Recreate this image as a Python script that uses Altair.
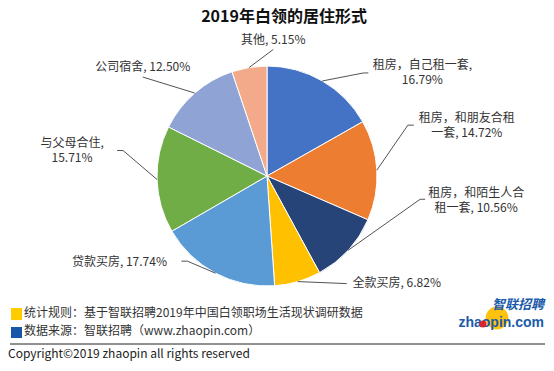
import altair as alt
import pandas as pd
import numpy as np

# ---------------- data ----------------
categories = ["租房，自己租一套", "租房，和朋友合租一套", "租房，和陌生人合租一套", "全款买房",
              "贷款买房", "与父母合住", "公司宿舍", "其他"]
values = [16.79, 14.72, 10.56, 6.82, 17.74, 15.71, 12.50, 5.15]
title_text = "2019年白领的居住形式"
footnotes = ["统计规则：基于智联招聘2019年中国白领职场生活现状调研数据",
             "数据来源：智联招聘（www.zhaopin.com）"]
copyright_text = "Copyright©2019 zhaopin all rights reserved"
logo_cn = "智联招聘"
logo_en = "zhaopin.com"

# ---------------- style / layout ----------------
colors = ["#4472C4", "#ED7D31", "#264478", "#FFC000", "#5B9BD5", "#70AD47", "#8FA3D5", "#F2AA8A"]
FONT = "Noto Sans CJK SC"
TXT = "#333333"
W, H = 538, 355
cx, cy, R = 259, 168, 110
# where each label wraps (character index), None = single line
wrap = [9, 8, 8, None, None, 6, None, None]
# offsets relative to the slice edge point: elbow, end, text centre (first line)
elbow_off = [(41, -8), (31, -45), (72, -51), (49, 2), (-28, -12), (-34, -29), (-52, -16), (24, -18)]
end_off = [(46, -8), (37, -45), (77, -51), (49, 2), (-34, -12), (-40, -29), (-52, -16), (24, -18)]
text_off = [(100, -16), (90, -52), (128, -57), (99, 1), (-96, -11), (-85, -37), (-52, -26), (24, -27)]
LINE_H = 15

df = pd.DataFrame({"cat": categories, "value": values, "idx": range(len(values))})

frac = np.array(values) / sum(values)
mid = (np.cumsum(frac) - frac / 2) * 2 * np.pi
ex = cx + R * np.sin(mid)
ey = cy - R * np.cos(mid)

line_rows, text_rows = [], []
for i, (c, v) in enumerate(zip(categories, values)):
    line_rows.append({"cat": c, "pt": 0, "x": ex[i], "y": ey[i]})
    line_rows.append({"cat": c, "pt": 1, "x": ex[i] + elbow_off[i][0], "y": ey[i] + elbow_off[i][1]})
    line_rows.append({"cat": c, "pt": 2, "x": ex[i] + end_off[i][0], "y": ey[i] + end_off[i][1]})
    full = f"{c}, {v:.2f}%"
    parts = [full] if wrap[i] is None else [full[:wrap[i]].strip(), full[wrap[i]:].strip()]
    for j, p in enumerate(parts):
        text_rows.append({"t": p, "x": ex[i] + text_off[i][0], "y": ey[i] + text_off[i][1] + j * LINE_H})
lines_df = pd.DataFrame(line_rows)
texts_df = pd.DataFrame(text_rows)

xs = alt.Scale(domain=[0, W], nice=False, zero=False)
ys = alt.Scale(domain=[0, H], nice=False, zero=False, reverse=True)

pie = alt.Chart(df).mark_arc(outerRadius=R, stroke="white", strokeWidth=1).encode(
    theta=alt.Theta("value:Q", stack=True),
    color=alt.Color("cat:N", scale=alt.Scale(domain=categories, range=colors), legend=None),
    order=alt.Order("idx:Q"),
    x=alt.value(cx), y=alt.value(cy),
)

leaders = alt.Chart(lines_df).mark_line(color="#404040", strokeWidth=0.9).encode(
    x=alt.X("x:Q", scale=xs, axis=None),
    y=alt.Y("y:Q", scale=ys, axis=None),
    detail="cat:N",
    order="pt:Q",
)

labels = alt.Chart(texts_df).mark_text(font=FONT, fontSize=12, color=TXT, align="center",
                                        baseline="middle").encode(
    x=alt.X("x:Q", scale=xs, axis=None),
    y=alt.Y("y:Q", scale=ys, axis=None),
    text="t:N",
)

one = pd.DataFrame({"a": [0]})

title = alt.Chart(pd.DataFrame({"t": [title_text]})).mark_text(
    font=FONT, fontSize=16, fontWeight="bold", color="#111111", align="center", baseline="middle"
).encode(x=alt.value(276), y=alt.value(9), text="t:N")

sq1 = alt.Chart(one).mark_rect(color="#FFCC00").encode(
    x=alt.value(3), x2=alt.value(14), y=alt.value(300), y2=alt.value(312))
sq2 = alt.Chart(one).mark_rect(color="#1756A9").encode(
    x=alt.value(3), x2=alt.value(14), y=alt.value(319), y2=alt.value(330))
foot1 = alt.Chart(pd.DataFrame({"t": [footnotes[0]]})).mark_text(
    font=FONT, fontSize=12, color=TXT, align="left", baseline="middle"
).encode(x=alt.value(16), y=alt.value(304.5), text="t:N")
foot2 = alt.Chart(pd.DataFrame({"t": [footnotes[1]]})).mark_text(
    font=FONT, fontSize=12, color=TXT, align="left", baseline="middle"
).encode(x=alt.value(16), y=alt.value(323), text="t:N")
rule = alt.Chart(one).mark_rule(color="#222222", strokeWidth=1).encode(
    x=alt.value(2), x2=alt.value(537), y=alt.value(336))
copy_t = alt.Chart(pd.DataFrame({"t": [copyright_text]})).mark_text(
    font=FONT, fontSize=12, color="#222222", align="left", baseline="middle"
).encode(x=alt.value(0), y=alt.value(346), text="t:N")

logo_circle = alt.Chart(one).mark_circle(color="#FFC20E", opacity=1, size=520).encode(
    x=alt.value(489), y=alt.value(310))
logo_cn_t = alt.Chart(pd.DataFrame({"t": [logo_cn]})).mark_text(
    font=FONT, fontSize=13, fontWeight="bold", fontStyle="italic", color="#1A5AAA",
    align="right", baseline="middle"
).encode(x=alt.value(536), y=alt.value(297), text="t:N")
logo_en_t = alt.Chart(pd.DataFrame({"t": [logo_en]})).mark_text(
    font="Liberation Sans", fontSize=14, fontWeight="bold", color="#1A5AAA",
    align="right", baseline="middle"
).encode(x=alt.value(536), y=alt.value(315), text="t:N")
logo_dot = alt.Chart(one).mark_circle(color="#D9262B", opacity=1, size=50).encode(
    x=alt.value(475), y=alt.value(316))

chart = alt.layer(
    pie, leaders, labels, title, sq1, sq2, foot1, foot2, rule, copy_t,
    logo_circle, logo_en_t, logo_dot, logo_cn_t
).properties(
    width=W, height=H, padding=0, autosize=alt.AutoSizeParams(type="none"),
    background="white",
).configure_view(stroke=None)

chart.save("out.html", embed_options={"renderer": "svg", "actions": False})
